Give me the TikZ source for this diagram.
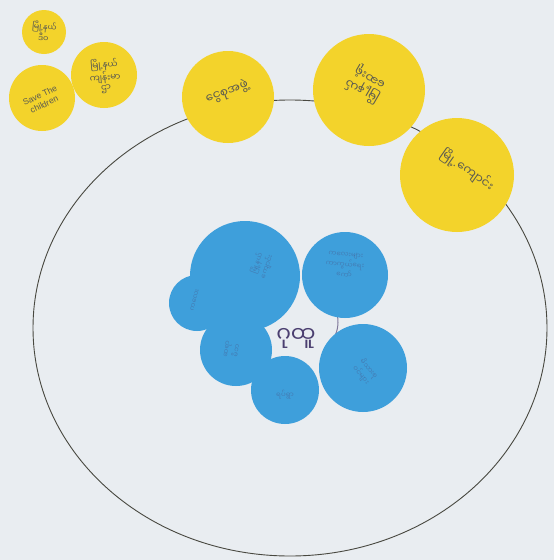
\documentclass[tikz,border=0pt]{standalone}
\usepackage{fontspec}
\newfontfamily\mya[Script=Myanmar]{Noto Sans Myanmar UI}
\setmainfont{Liberation Sans}
\definecolor{bg}{HTML}{E9EDF1}
\definecolor{yel}{HTML}{F3D32B}
\definecolor{blu}{HTML}{3E9FDB}
\definecolor{ink}{HTML}{5A5A50}
\definecolor{pur}{HTML}{4B3F70}
\begin{document}
\begin{tikzpicture}[x=1pt,y=-1pt,
  ydisc/.style={circle,fill=yel,draw=none,inner sep=0pt,minimum size=#1},
  bdisc/.style={circle,fill=blu,draw=none,inner sep=0pt,minimum size=#1},
  ytext/.style={text=ink,font=\mya\fontsize{10}{11}\selectfont,align=center,inner sep=0pt},
  btext/.style={text=pur,opacity=0.35,font=\mya\fontsize{7}{8}\selectfont,align=center,inner sep=0pt}]
\fill[bg] (0,0) rectangle (554,560);
\useasboundingbox (0,0) rectangle (554,560);
% large ring
\draw[ink!80!black,line width=0.9pt] (290,328) ellipse [x radius=257pt, y radius=228pt];
% yellow discs
\node[ydisc=44pt] (y1) at (44,32) {};
\node[ydisc=66pt] (y2) at (42,98) {};
\node[ydisc=66pt] (y3) at (104,75) {};
\node[ydisc=92pt] (y4) at (228,97) {};
\node[ydisc=112pt] (y5) at (369,90) {};
\node[ydisc=114pt] (y6) at (457,175) {};
\node[ytext,rotate=-5,font=\mya\fontsize{8}{8.5}\selectfont] (t1) at (y1) {မြို့နယ်\\ဒီဝ};
\node[ytext,rotate=25,font=\fontsize{8.5}{10}\selectfont] (t2) at (42,100) {Save The\\children};
\node[ytext,rotate=5,font=\mya\fontsize{9}{9.5}\selectfont] (t3) at (105,76) {မြို့နယ်\\ကျန်းမာ\\ဌာ};
\node[ytext,rotate=20,font=\mya\fontsize{12}{13}\selectfont] (t4) at (227,92) {ငွေစုအဖွဲ့};
\node[ytext,rotate=150,font=\mya\fontsize{12}{14}\selectfont] (t5) at (366,84) {မြို့နယ်\\ဆေးရုံ};
\node[ytext,rotate=-35,font=\mya\fontsize{12}{13}\selectfont] (t6) at (467,170) {မြို့{\normalfont.}ကျောင်း};
% centre arc
\coordinate (cc) at (305,322);
\draw[pur!70,line width=1pt] (cc) ++(-40:33pt) arc[start angle=-40,end angle=50,radius=33pt];
% blue discs
\node[bdisc=110pt] (b1) at (245,276) {};
\node[bdisc=56pt] (b2) at (197,303) {};
\node[bdisc=86pt] (b3) at (345,275) {};
\node[bdisc=72pt] (b4) at (236,350) {};
\node[bdisc=68pt] (b5) at (285,390) {};
\node[bdisc=88pt] (b6) at (363,368) {};
\node[btext,rotate=70] (s1) at (262,265) {မြို့နယ်\\ကျောင်း};
\node[btext,rotate=75] (s2) at (195,300) {ကလေး};
\node[btext,rotate=-5] (s3) at (345,265) {ကလေးများ\\ကာကွယ်ရေး\\ကော်};
\node[btext,rotate=80] (s4) at (232,350) {ဆရာ\\မိဘ};
\node[btext] (s5) at (285,395) {ရပ်ရွာ};
\node[btext,rotate=-50] (s6) at (365,372) {မိသားစု\\ဝင်များ};
\node[text=pur,font=\mya\fontsize{22}{24}\selectfont,inner sep=0pt] (c) at (296,338) {ဂုထူ};
\end{tikzpicture}
\end{document}
